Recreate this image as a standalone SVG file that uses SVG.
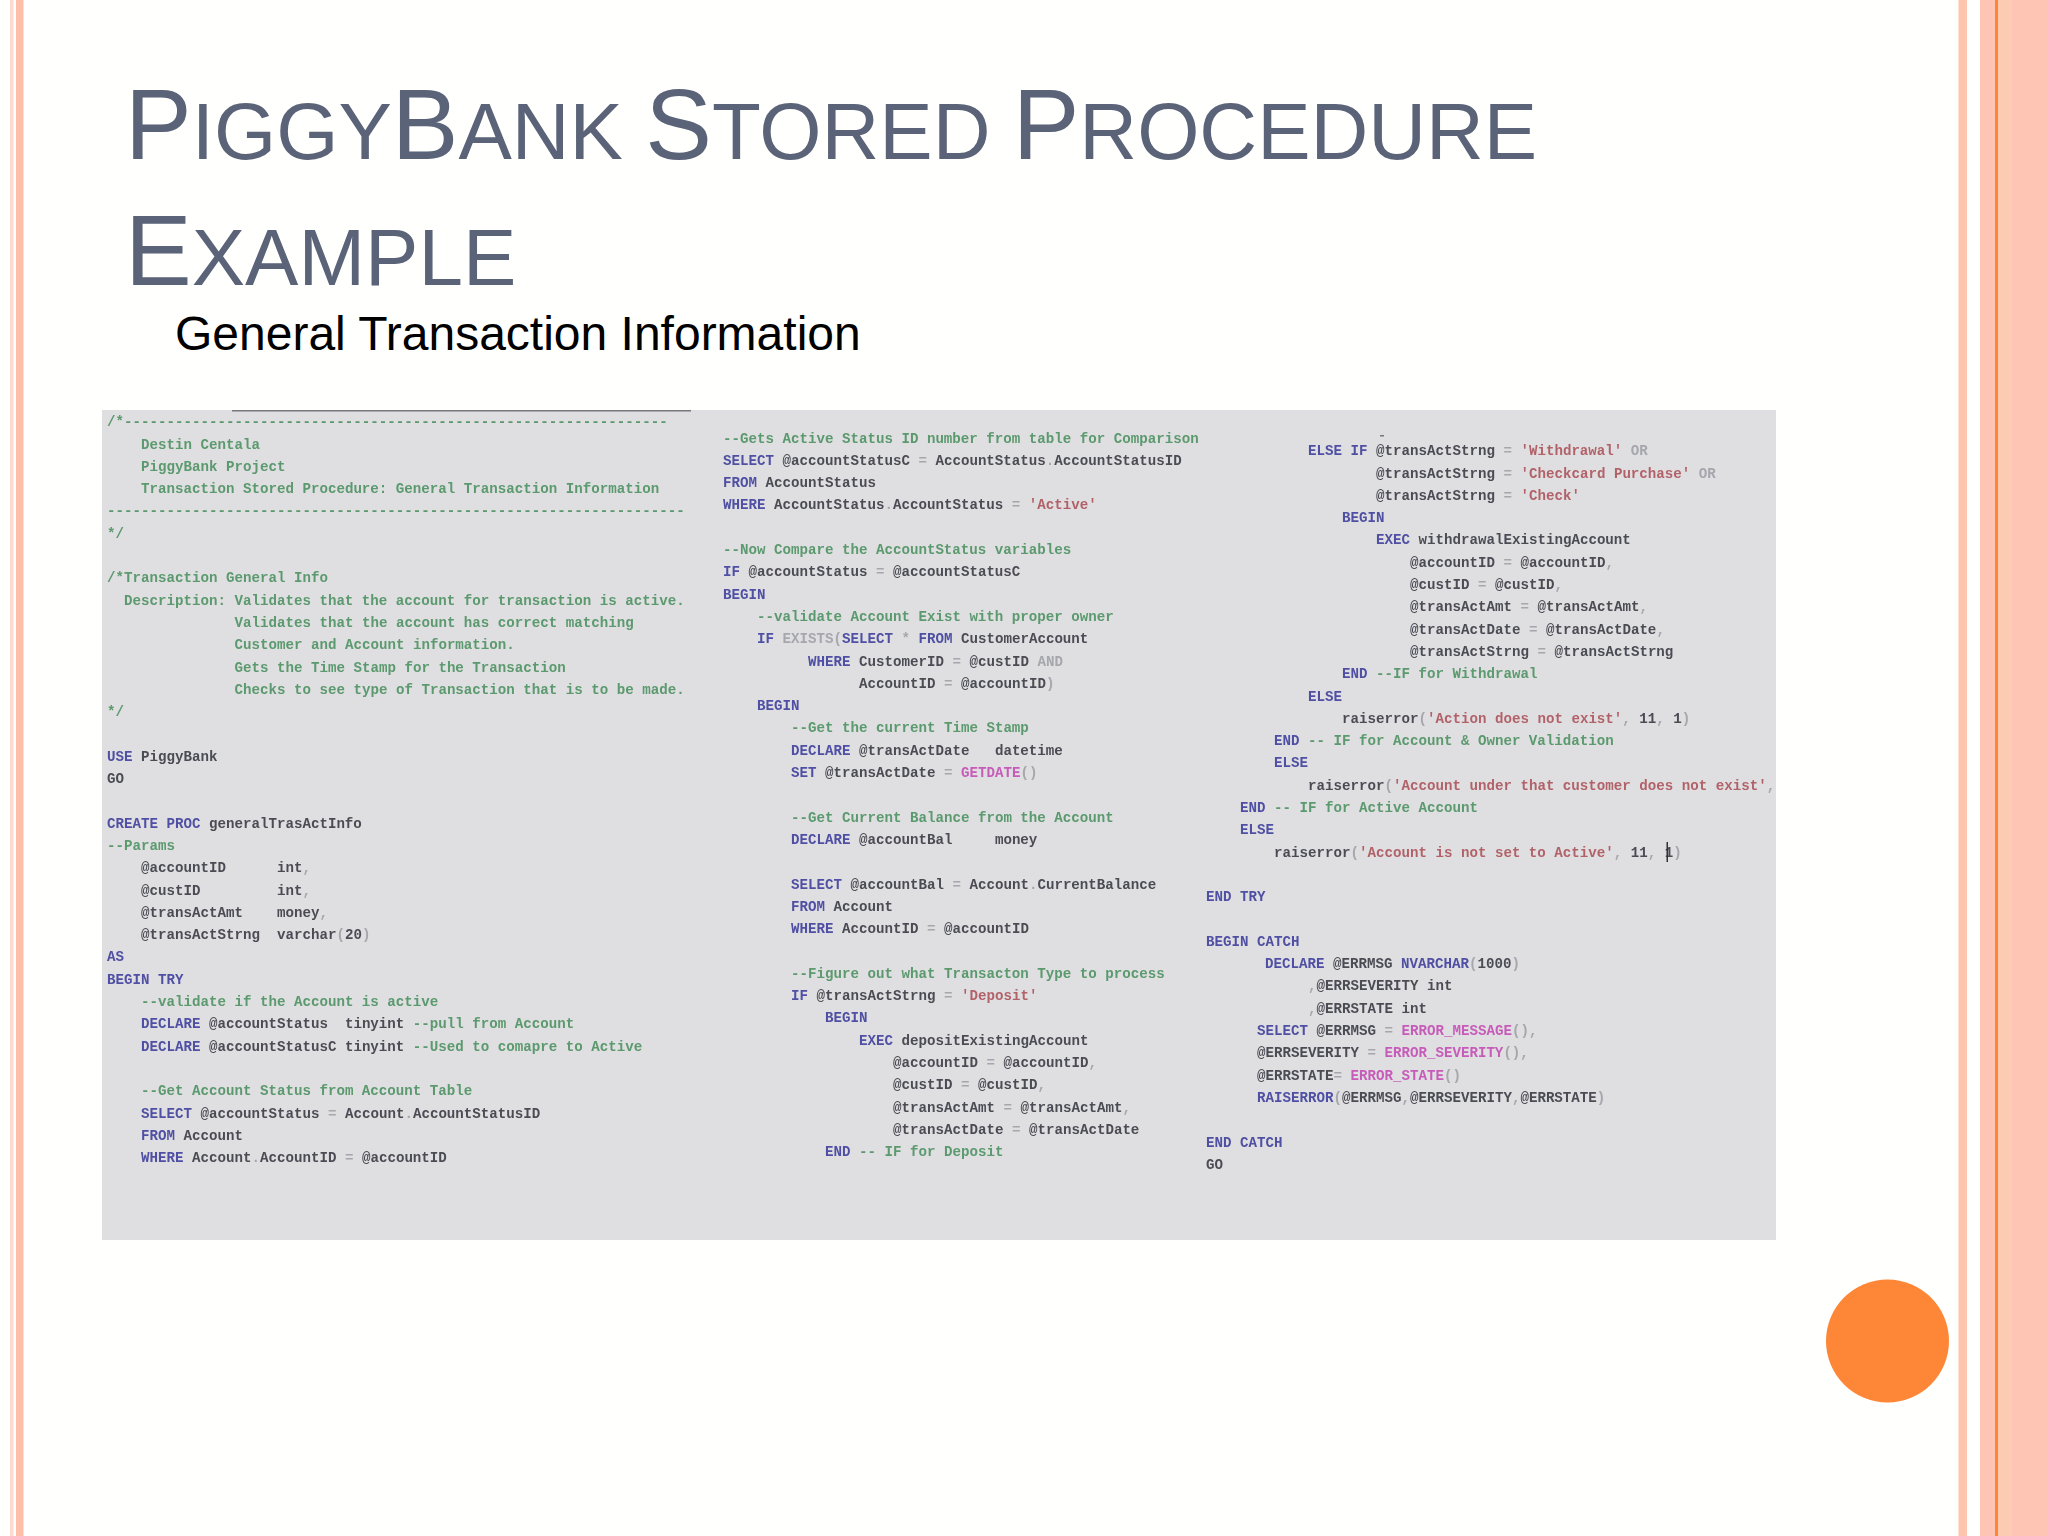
<svg xmlns="http://www.w3.org/2000/svg" width="2048" height="1536" viewBox="0 0 2048 1536">
<defs>
<style>
.code{font-family:"Liberation Mono","Courier New",monospace;font-size:14.17px;fill:#2b2b35;white-space:pre;font-weight:700;opacity:.82}
.c{fill:#3f8a55}.k{fill:#2f2f96}.s{fill:#a8474f}.f{fill:#c23fb0}.g{fill:#9a9aa2}
.t{font-family:"Liberation Sans",Arial,sans-serif;fill:#5a6378;font-size:100px}
.t tspan.m{font-size:80px}
</style>
<filter id="soft" x="-2%" y="-2%" width="104%" height="104%"><feGaussianBlur stdDeviation="0.65"/></filter>
</defs>
<rect width="2048" height="1536" fill="#fffffd"/>
<g id="borders">
<rect x="10" y="0" width="3.500" height="1536" fill="#ffd9cf"/>
<rect x="16" y="0" width="7.500" height="1536" fill="#fdbfa9"/>
<rect x="1958.500" y="0" width="8.500" height="1536" fill="#fdc5ad"/>
<rect x="1980" y="0" width="68" height="1536" fill="#fec4b4"/>
<rect x="1998" y="0" width="14" height="1536" fill="#fdcab2"/>
<rect x="1995" y="0" width="3" height="1536" fill="#fe8637"/>
</g>
<g id="title">
<text class="t" x="125" y="159"><tspan>P</tspan><tspan class="m">IGGY</tspan><tspan>B</tspan><tspan class="m">ANK </tspan><tspan>S</tspan><tspan class="m">TORED </tspan><tspan>P</tspan><tspan class="m">ROCEDURE</tspan></text>
<text class="t" x="125" y="285"><tspan>E</tspan><tspan class="m">XAMPLE</tspan></text>
</g>
<text id="subtitle" x="175" y="350" font-family="'Liberation Sans',Arial,sans-serif" font-size="48" fill="#000">General Transaction Information</text>
<circle id="dot" cx="1887.500" cy="1341" r="61.500" fill="#fe8637"/>
<g id="code-panel">
<rect x="102" y="410" width="1674" height="830" fill="#dfdfe1"/>
<rect x="232" y="410" width="459" height="1.500" fill="#77777c"/>
<g filter="url(#soft)">
<g id="col1">
<text class="code c" x="107" y="426">/*----------------------------------------------------------------</text>
<text class="code c" x="141" y="448.500">Destin Centala</text>
<text class="code c" x="141" y="470.800">PiggyBank Project</text>
<text class="code c" x="141" y="493">Transaction Stored Procedure: General Transaction Information</text>
<text class="code c" x="107" y="515.400">--------------------------------------------------------------------</text>
<text class="code c" x="107" y="537.700">*/</text>
<text class="code c" x="107" y="582.300">/*Transaction General Info</text>
<text class="code c" x="124" y="604.600">Description: Validates that the account for transaction is active.</text>
<text class="code c" x="234.500" y="626.900">Validates that the account has correct matching</text>
<text class="code c" x="234.500" y="649.200">Customer and Account information.</text>
<text class="code c" x="234.500" y="671.500">Gets the Time Stamp for the Transaction</text>
<text class="code c" x="234.500" y="693.800">Checks to see type of Transaction that is to be made.</text>
<text class="code c" x="107" y="716.100">*/</text>
<text class="code" x="107" y="760.700"><tspan class="k">USE</tspan> PiggyBank</text>
<text class="code" x="107" y="783">GO</text>
<text class="code" x="107" y="827.600"><tspan class="k">CREATE PROC</tspan> generalTrasActInfo</text>
<text class="code c" x="107" y="849.900">--Params</text>
<text class="code" x="141" y="872.200">@accountID      int<tspan class="g">,</tspan></text>
<text class="code" x="141" y="894.500">@custID         int<tspan class="g">,</tspan></text>
<text class="code" x="141" y="916.800">@transActAmt    money<tspan class="g">,</tspan></text>
<text class="code" x="141" y="939.100">@transActStrng  varchar<tspan class="g">(</tspan>20<tspan class="g">)</tspan></text>
<text class="code k" x="107" y="961.400">AS</text>
<text class="code k" x="107" y="983.700">BEGIN TRY</text>
<text class="code c" x="141" y="1006">--validate if the Account is active</text>
<text class="code" x="141" y="1028.300"><tspan class="k">DECLARE</tspan> @accountStatus  tinyint <tspan class="c">--pull from Account</tspan></text>
<text class="code" x="141" y="1050.600"><tspan class="k">DECLARE</tspan> @accountStatusC tinyint <tspan class="c">--Used to comapre to Active</tspan></text>
<text class="code c" x="141" y="1095.200">--Get Account Status from Account Table</text>
<text class="code" x="141" y="1117.500"><tspan class="k">SELECT</tspan> @accountStatus <tspan class="g">=</tspan> Account<tspan class="g">.</tspan>AccountStatusID</text>
<text class="code" x="141" y="1139.800"><tspan class="k">FROM</tspan> Account</text>
<text class="code" x="141" y="1162.100"><tspan class="k">WHERE</tspan> Account<tspan class="g">.</tspan>AccountID <tspan class="g">=</tspan> @accountID</text>
</g>
<g id="col2">
<text class="code c" x="723" y="442.500">--Gets Active Status ID number from table for Comparison</text>
<text class="code" x="723" y="464.800"><tspan class="k">SELECT</tspan> @accountStatusC <tspan class="g">=</tspan> AccountStatus<tspan class="g">.</tspan>AccountStatusID</text>
<text class="code" x="723" y="487.100"><tspan class="k">FROM</tspan> AccountStatus</text>
<text class="code" x="723" y="509.400"><tspan class="k">WHERE</tspan> AccountStatus<tspan class="g">.</tspan>AccountStatus <tspan class="g">=</tspan> <tspan class="s">'Active'</tspan></text>
<text class="code c" x="723" y="554">--Now Compare the AccountStatus variables</text>
<text class="code" x="723" y="576.300"><tspan class="k">IF</tspan> @accountStatus <tspan class="g">=</tspan> @accountStatusC</text>
<text class="code k" x="723" y="598.600">BEGIN</text>
<text class="code c" x="757" y="620.900">--validate Account Exist with proper owner</text>
<text class="code" x="757" y="643.200"><tspan class="k">IF</tspan> <tspan class="g">EXISTS(</tspan><tspan class="k">SELECT</tspan> <tspan class="g">*</tspan> <tspan class="k">FROM</tspan> CustomerAccount</text>
<text class="code" x="808" y="665.500"><tspan class="k">WHERE</tspan> CustomerID <tspan class="g">=</tspan> @custID <tspan class="g">AND</tspan></text>
<text class="code" x="859" y="687.800">AccountID <tspan class="g">=</tspan> @accountID<tspan class="g">)</tspan></text>
<text class="code k" x="757" y="710.100">BEGIN</text>
<text class="code c" x="791" y="732.400">--Get the current Time Stamp</text>
<text class="code" x="791" y="754.700"><tspan class="k">DECLARE</tspan> @transActDate   datetime</text>
<text class="code" x="791" y="777"><tspan class="k">SET</tspan> @transActDate <tspan class="g">=</tspan> <tspan class="f">GETDATE</tspan><tspan class="g">()</tspan></text>
<text class="code c" x="791" y="821.600">--Get Current Balance from the Account</text>
<text class="code" x="791" y="843.900"><tspan class="k">DECLARE</tspan> @accountBal     money</text>
<text class="code" x="791" y="888.500"><tspan class="k">SELECT</tspan> @accountBal <tspan class="g">=</tspan> Account<tspan class="g">.</tspan>CurrentBalance</text>
<text class="code" x="791" y="910.800"><tspan class="k">FROM</tspan> Account</text>
<text class="code" x="791" y="933.100"><tspan class="k">WHERE</tspan> AccountID <tspan class="g">=</tspan> @accountID</text>
<text class="code c" x="791" y="977.700">--Figure out what Transacton Type to process</text>
<text class="code" x="791" y="1000"><tspan class="k">IF</tspan> @transActStrng <tspan class="g">=</tspan> <tspan class="s">'Deposit'</tspan></text>
<text class="code k" x="825" y="1022.300">BEGIN</text>
<text class="code" x="859" y="1044.600"><tspan class="k">EXEC</tspan> depositExistingAccount</text>
<text class="code" x="893" y="1066.900">@accountID <tspan class="g">=</tspan> @accountID<tspan class="g">,</tspan></text>
<text class="code" x="893" y="1089.200">@custID <tspan class="g">=</tspan> @custID<tspan class="g">,</tspan></text>
<text class="code" x="893" y="1111.500">@transActAmt <tspan class="g">=</tspan> @transActAmt<tspan class="g">,</tspan></text>
<text class="code" x="893" y="1133.800">@transActDate <tspan class="g">=</tspan> @transActDate</text>
<text class="code" x="825" y="1156.100"><tspan class="k">END</tspan> <tspan class="c">-- IF for Deposit</tspan></text>
</g>
<g id="col3">
<rect x="1380" y="435" width="4" height="1.500" fill="#77777c"/>
<text class="code" x="1308" y="455.200"><tspan class="k">ELSE IF</tspan> @transActStrng <tspan class="g">=</tspan> <tspan class="s">'Withdrawal'</tspan> <tspan class="g">OR</tspan></text>
<text class="code" x="1376" y="477.500">@transActStrng <tspan class="g">=</tspan> <tspan class="s">'Checkcard Purchase'</tspan> <tspan class="g">OR</tspan></text>
<text class="code" x="1376" y="499.800">@transActStrng <tspan class="g">=</tspan> <tspan class="s">'Check'</tspan></text>
<text class="code k" x="1342" y="522.100">BEGIN</text>
<text class="code" x="1376" y="544.400"><tspan class="k">EXEC</tspan> withdrawalExistingAccount</text>
<text class="code" x="1410" y="566.700">@accountID <tspan class="g">=</tspan> @accountID<tspan class="g">,</tspan></text>
<text class="code" x="1410" y="589">@custID <tspan class="g">=</tspan> @custID<tspan class="g">,</tspan></text>
<text class="code" x="1410" y="611.300">@transActAmt <tspan class="g">=</tspan> @transActAmt<tspan class="g">,</tspan></text>
<text class="code" x="1410" y="633.600">@transActDate <tspan class="g">=</tspan> @transActDate<tspan class="g">,</tspan></text>
<text class="code" x="1410" y="655.900">@transActStrng <tspan class="g">=</tspan> @transActStrng</text>
<text class="code" x="1342" y="678.200"><tspan class="k">END</tspan> <tspan class="c">--IF for Withdrawal</tspan></text>
<text class="code k" x="1308" y="700.500">ELSE</text>
<text class="code" x="1342" y="722.800">raiserror<tspan class="g">(</tspan><tspan class="s">'Action does not exist'</tspan><tspan class="g">,</tspan> 11<tspan class="g">,</tspan> 1<tspan class="g">)</tspan></text>
<text class="code" x="1274" y="745.100"><tspan class="k">END</tspan> <tspan class="c">-- IF for Account &amp; Owner Validation</tspan></text>
<text class="code k" x="1274" y="767.400">ELSE</text>
<text class="code" x="1308" y="789.700">raiserror<tspan class="g">(</tspan><tspan class="s">'Account under that customer does not exist'</tspan><tspan class="g">,</tspan></text>
<text class="code" x="1240" y="812"><tspan class="k">END</tspan> <tspan class="c">-- IF for Active Account</tspan></text>
<text class="code k" x="1240" y="834.300">ELSE</text>
<text class="code" x="1274" y="856.600">raiserror<tspan class="g">(</tspan><tspan class="s">'Account is not set to Active'</tspan><tspan class="g">,</tspan> 11<tspan class="g">,</tspan> 1<tspan class="g">)</tspan></text>
<rect x="1666.500" y="842" width="1.500" height="20" fill="#333"/>
<text class="code k" x="1206" y="901.200">END TRY</text>
<text class="code k" x="1206" y="945.800">BEGIN CATCH</text>
<text class="code" x="1265" y="968.100"><tspan class="k">DECLARE</tspan> @ERRMSG <tspan class="k">NVARCHAR</tspan><tspan class="g">(</tspan>1000<tspan class="g">)</tspan></text>
<text class="code" x="1308" y="990.400"><tspan class="g">,</tspan>@ERRSEVERITY int</text>
<text class="code" x="1308" y="1012.700"><tspan class="g">,</tspan>@ERRSTATE int</text>
<text class="code" x="1257" y="1035"><tspan class="k">SELECT</tspan> @ERRMSG <tspan class="g">=</tspan> <tspan class="f">ERROR_MESSAGE</tspan><tspan class="g">(),</tspan></text>
<text class="code" x="1257" y="1057.300">@ERRSEVERITY <tspan class="g">=</tspan> <tspan class="f">ERROR_SEVERITY</tspan><tspan class="g">(),</tspan></text>
<text class="code" x="1257" y="1079.600">@ERRSTATE<tspan class="g">=</tspan> <tspan class="f">ERROR_STATE</tspan><tspan class="g">()</tspan></text>
<text class="code" x="1257" y="1101.900"><tspan class="k">RAISERROR</tspan><tspan class="g">(</tspan>@ERRMSG<tspan class="g">,</tspan>@ERRSEVERITY<tspan class="g">,</tspan>@ERRSTATE<tspan class="g">)</tspan></text>
<text class="code k" x="1206" y="1146.500">END CATCH</text>
<text class="code" x="1206" y="1168.800">GO</text>
</g>
</g>
</g>
</svg>
